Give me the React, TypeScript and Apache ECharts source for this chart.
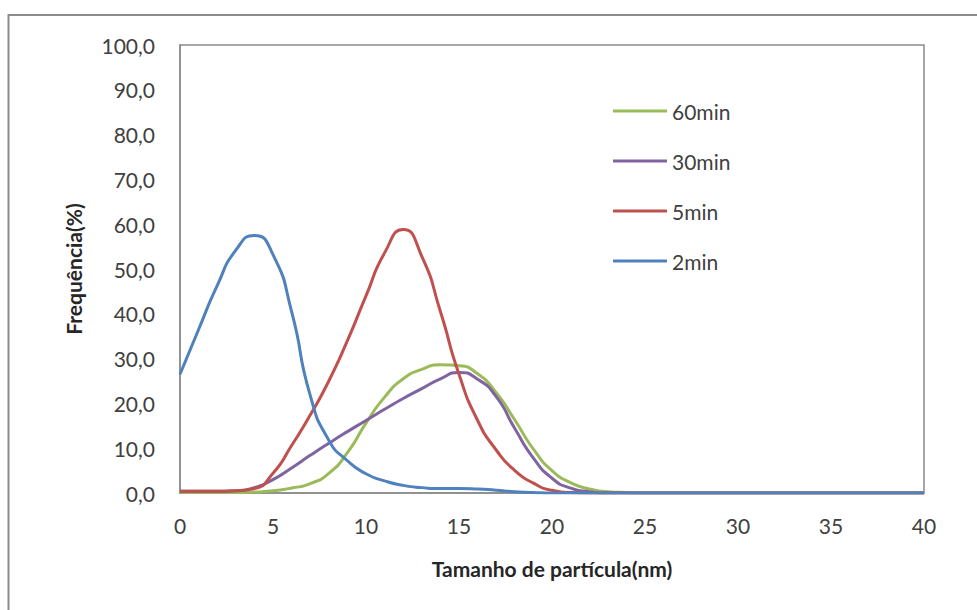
import React, { useEffect, useRef } from "react";
import * as echarts from "echarts";

// Particle size (nm) on the x axis
const sizes = [
  0, 1, 2, 3, 4, 5, 6, 7, 8, 9, 10, 11, 12, 13, 14, 15, 16, 17, 18, 19, 20,
  21, 22, 23, 24, 25, 26, 27, 28, 29, 30, 31, 32, 33, 34, 35, 36, 37, 38, 39, 40,
];

// Frequency (%) per reaction time
const freq60min = [
  0.1, 0.1, 0.1, 0.1, 0.2, 0.5, 1.1, 2.1, 4.4, 9.0, 15.6, 21.4, 25.5, 27.6, 28.6, 28.4, 26.6, 22.4, 16.3, 9.8, 5.0,
  2.3, 0.9, 0.3, 0.1, 0, 0, 0, 0, 0, 0, 0, 0, 0, 0, 0, 0, 0, 0, 0, 0,
];
const freq30min = [
  0.4, 0.4, 0.4, 0.5, 1.2, 3.0, 5.6, 8.4, 11.1, 13.7, 16.2, 18.7, 21.1, 23.3, 25.5, 26.9, 25.4, 21.5, 14.4, 7.8, 3.3,
  1.1, 0.3, 0, 0, 0, 0, 0, 0, 0, 0, 0, 0, 0, 0, 0, 0, 0, 0, 0, 0,
];
const freq5min = [
  0.4, 0.4, 0.4, 0.5, 1.0, 4.4, 10.6, 17.4, 25.0, 34.0, 44.0, 53.6, 58.8, 52.8, 40.5, 26.5, 16.2, 9.6, 5.0, 2.2, 0.6,
  0.1, 0, 0, 0, 0, 0, 0, 0, 0, 0, 0, 0, 0, 0, 0, 0, 0, 0, 0, 0,
];
const freq2min = [
  26.5, 36.5, 46.3, 54.2, 57.5, 53.2, 40.5, 21.8, 11.8, 7.2, 4.3, 2.7, 1.7, 1.2, 1.0, 1.0, 0.9, 0.6, 0.3, 0.1, 0,
  0, 0, 0, 0, 0, 0, 0, 0, 0, 0, 0, 0, 0, 0, 0, 0, 0, 0, 0, 0,
];

const seriesNames = ["60min", "30min", "5min", "2min"];
const seriesValues = [freq60min, freq30min, freq5min, freq2min];
const seriesColors = ["#9BBB59", "#8064A2", "#C0504D", "#4F81BD"];

const FONT = "Lato";

export default function App() {
  const ref = useRef<HTMLDivElement>(null);

  useEffect(() => {
    const chart = echarts.init(ref.current!, null, { renderer: "svg" });
    chart.setOption({
      animation: false,
      backgroundColor: "#ffffff",
      graphic: [
        {
          type: "rect",
          shape: { x: 8.5, y: 15, width: 1000, height: 700 },
          style: { fill: "none", stroke: "#8c8c8c", lineWidth: 2 },
          silent: true,
        },
      ],
      grid: {
        left: 180,
        top: 45,
        width: 744,
        height: 448,
        show: true,
        borderColor: "#8a8a8a",
        borderWidth: 1.5,
        backgroundColor: "#ffffff",
      },
      legend: {
        orient: "vertical",
        left: 608,
        top: 95,
        icon: "rect",
        itemWidth: 54,
        itemHeight: 3,
        itemGap: 28,
        data: seriesNames,
        textStyle: {
          fontFamily: FONT,
          fontSize: 21,
          color: "#404040",
          lineHeight: 22,
        },
      },
      xAxis: {
        type: "value",
        min: 0,
        max: 40,
        interval: 5,
        name: "Tamanho de partícula(nm)",
        nameLocation: "middle",
        nameGap: 65,
        nameTextStyle: {
          fontFamily: FONT,
          fontSize: 21,
          fontWeight: "bold",
          color: "#262626",
        },
        axisLine: { show: true, lineStyle: { color: "#8a8a8a", width: 1.5 } },
        axisTick: { show: false },
        splitLine: { show: false },
        axisLabel: {
          margin: 22,
          fontFamily: FONT,
          fontSize: 21,
          color: "#404040",
        },
      },
      yAxis: {
        type: "value",
        min: 0,
        max: 100,
        interval: 10,
        name: "Frequência(%)",
        nameLocation: "middle",
        nameRotate: 90,
        nameGap: 96,
        nameTextStyle: {
          fontFamily: FONT,
          fontSize: 21,
          fontWeight: "bold",
          color: "#262626",
        },
        axisLine: { show: true, lineStyle: { color: "#8a8a8a", width: 1.5 } },
        axisTick: { show: false },
        splitLine: { show: false },
        axisLabel: {
          margin: 25,
          fontFamily: FONT,
          fontSize: 21,
          color: "#404040",
          formatter: (v: number) => v.toFixed(1).replace(".", ","),
        },
      },
      series: seriesNames.map((name, i) => ({
        name,
        type: "line",
        smooth: 0.6,
        symbol: "none",
        color: seriesColors[i],
        lineStyle: { width: 3, color: seriesColors[i] },
        data: sizes.map((s, j) => [s, seriesValues[i][j]]),
        z: 2 + i,
      })),
    });
    return () => chart.dispose();
  }, []);

  return (
    <div
      ref={ref}
      style={{
        position: "absolute",
        left: 0,
        top: 0,
        width: 977,
        height: 610,
        background: "#ffffff",
      }}
    />
  );
}
